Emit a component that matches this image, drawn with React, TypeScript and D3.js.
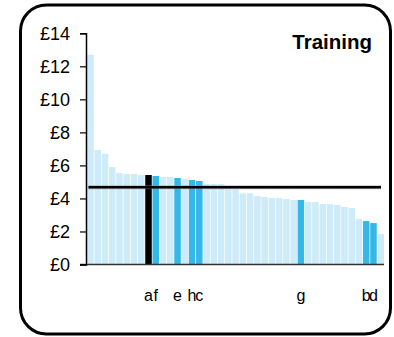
import { useEffect, useRef } from 'react'
import * as d3 from 'd3'

// bar values, sorted high to low (£)
const values = [
  12.7, 6.93, 6.7, 5.9, 5.54, 5.48, 5.48, 5.42, 5.42, 5.36,
  5.3, 5.3, 5.24, 5.18, 5.12, 5.06, 4.87, 4.87, 4.87, 4.55,
  4.55, 4.31, 4.31, 4.15, 4.09, 4.03, 4.03, 3.97, 3.91, 3.91,
  3.78, 3.78, 3.66, 3.66, 3.6, 3.48, 3.42, 2.76, 2.63, 2.51,
  1.85
]

// labels for the highlighted bars, empty for the rest
const labels = [
  '', '', '', '', '', '', '', '', 'a', 'f',
  '', '', 'e', '', 'h', 'c', '', '', '', '',
  '', '', '', '', '', '', '', '', '', 'g',
  '', '', '', '', '', '', '', '', 'b', 'd',
  ''
]

const focusLabel = 'a'
const yTicks = [0, 2, 4, 6, 8, 10, 12, 14]
const title = 'Training'

export default function App() {
  const ref = useRef<SVGSVGElement>(null)

  useEffect(() => {
    if (!ref.current) return
    const svg = d3.select(ref.current)
    svg.selectAll('*').remove()

    const font = '"Liberation Sans", Arial, sans-serif'

    // frame
    svg
      .append('rect')
      .attr('x', 20.5)
      .attr('y', 5)
      .attr('width', 370)
      .attr('height', 329)
      .attr('rx', 26)
      .attr('fill', '#fff')
      .attr('stroke', '#000')
      .attr('stroke-width', 3)

    const x = d3
      .scaleBand<number>()
      .domain(values.map((_, i) => i))
      .range([87.2, 384])
      .paddingInner(0.1)
      .paddingOuter(0)

    const y = d3.scaleLinear().domain([0, 14]).range([264.5, 33.3])

    // bars
    svg
      .append('g')
      .selectAll('rect')
      .data(values)
      .join('rect')
      .attr('x', (_, i) => x(i)!)
      .attr('y', d => y(d))
      .attr('width', x.bandwidth())
      .attr('height', d => y(0) - y(d))
      .attr('fill', (_, i) =>
        labels[i] === focusLabel ? '#000' : labels[i] ? '#35b8e8' : '#cdebf8'
      )

    // average line
    const avg = d3.mean(values)!
    svg
      .append('line')
      .attr('x1', 88.5)
      .attr('x2', 381)
      .attr('y1', y(avg))
      .attr('y2', y(avg))
      .attr('stroke', '#888')
      .attr('stroke-width', 4)
      .attr('opacity', 0.5)
    svg
      .append('line')
      .attr('x1', 88.5)
      .attr('x2', 381)
      .attr('y1', y(avg))
      .attr('y2', y(avg))
      .attr('stroke', '#000')
      .attr('stroke-width', 2.5)

    // x axis line
    svg
      .append('line')
      .attr('x1', 80)
      .attr('x2', 384)
      .attr('y1', y(0))
      .attr('y2', y(0))
      .attr('stroke', '#333')
      .attr('stroke-width', 1.5)

    // y axis
    const yAxis = svg
      .append('g')
      .attr('transform', 'translate(86,0)')
      .call(
        d3
          .axisLeft(y)
          .tickValues(yTicks)
          .tickSize(6)
          .tickPadding(10)
          .tickFormat(d => `£${d}`)
      )
    yAxis.select('.domain').attr('stroke', '#000').attr('stroke-width', 1.5)
    yAxis.selectAll('.tick line').attr('stroke', '#000').attr('stroke-width', 1.2)
    yAxis
      .selectAll('.tick text')
      .attr('fill', '#000')
      .style('font-family', font)
      .style('font-size', '18px')

    // category labels
    svg
      .append('g')
      .selectAll('text')
      .data(labels)
      .join('text')
      .attr('x', (_, i) => x(i)! + x.bandwidth() / 2)
      .attr('y', 300.7)
      .attr('text-anchor', 'middle')
      .style('font-family', font)
      .style('font-size', '16px')
      .attr('fill', '#000')
      .text(d => d)

    // title
    svg
      .append('text')
      .attr('x', 372)
      .attr('y', 48.5)
      .attr('text-anchor', 'end')
      .style('font-family', font)
      .style('font-size', '20.5px')
      .style('font-weight', 'bold')
      .attr('fill', '#000')
      .text(title)
  }, [])

  return (
    <svg
      ref={ref}
      width={394}
      height={337}
      style={{ position: 'absolute', left: 0, top: 0, background: '#fff' }}
    />
  )
}
